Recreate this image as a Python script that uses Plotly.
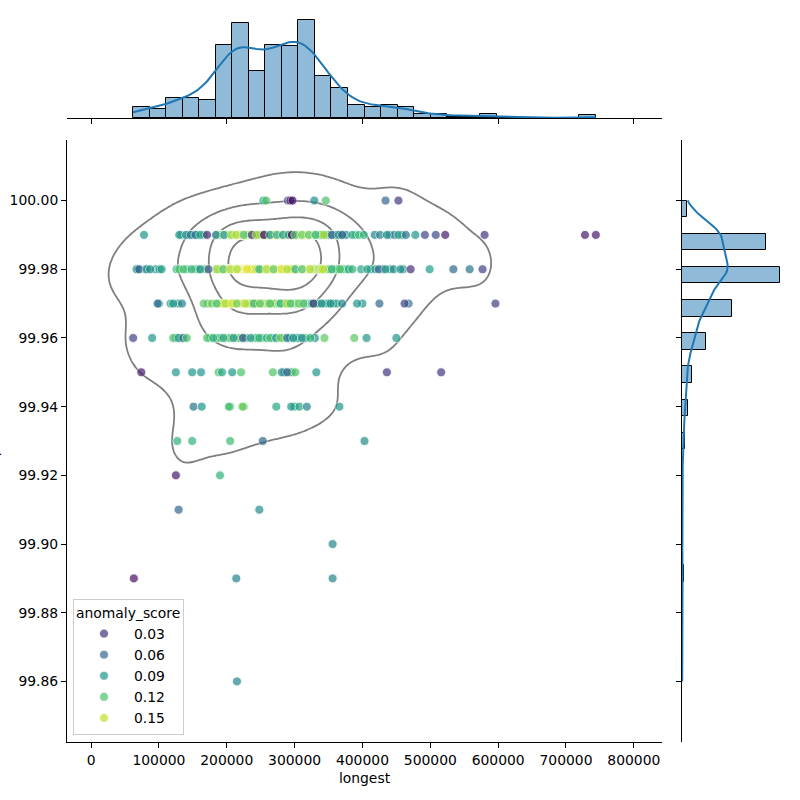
import numpy as np
import plotly.graph_objects as go
from plotly.colors import sample_colorscale

# ---------------- data (longest in thousands, per uptime row) ----------------
L_10000 = [254, 258, 290, 294, 297, 329, 346, 434, 453]
S_10000 = [.10, .12, .05, .008, .02, .085, .12, .06, .035]

L_9999 = [133, 144, 151, 157, 166,
          186, 188, 190, 192, 194, 197, 198, 200, 201, 202, 203, 204, 205, 206,
          209, 210, 211, 212, 213, 215, 216, 217, 218, 219, 220, 221, 222, 223, 226, 227, 228, 229, 230, 232,
          234, 236, 239, 241, 246, 248, 250, 253,
          258, 260, 262, 266, 268, 270, 271, 272, 276, 277, 278, 279, 280, 281,
          282, 285, 286, 287, 288, 290, 293, 295, 298, 300, 303, 305,
          306, 307, 308, 309, 310, 312, 313, 314, 315, 316, 317, 318, 319, 320, 322, 323, 324, 325, 326, 327, 328, 329, 330, 330,
          333, 335, 336, 338, 340, 345, 348, 352,
          357, 360, 362, 367, 372, 376,
          390, 418, 440, 447, 458,
          78, 130, 140, 147, 154, 161, 171, 184, 196, 207, 214, 225, 237, 244, 255, 264, 274, 283, 291, 296,
          301, 311, 321, 331, 343, 355, 365, 370, 385, 395, 402, 426, 436, 453, 464, 478, 492, 508, 522, 580,
          728, 744]
S_9999 = [.09, .08, .09, .10, .11,
          .12, .11, .13, .12, .13, .14, .14, .13, .15, .12, .12, .14, .13, .15,
          .14, .15, .13, .15, .14, .16, .15, .14, .15, .13, .16, .15, .14, .15, .13, .14, .15, .16, .14, .13,
          .14, .13, .15, .14, .15, .13, .14, .12,
          .14, .15, .13, .14, .15, .16, .14, .15, .13, .14, .15, .14, .13, .15,
          .15, .14, .15, .16, .14, .15, .13, .14, .15, .14, .15, .13,
          .13, .15, .14, .16, .13, .14, .15, .13, .16, .14, .15, .13, .14, .16, .15, .14, .13, .15, .14, .16, .13, .14, .15, .13,
          .13, .14, .12, .13, .12, .11, .12, .10,
          .10, .11, .09, .10, .09, .08,
          .10, .08, .08, .07, .08,
          .09, .09, .085, .075, .07, .10, .025, .075, .09, .14, .145, .12, .03, .14, .01, .09, .11, .09, .10, .008,
          .12, .13, .125, .115, .145, .055, .085, .06, .105, .115, .11, .075, .085, .10, .07, .09, .04, .045, .02, .035,
          .02, .02]

L_9998 = [69, 80, 95, 126, 140, 153, 158, 168,
          184, 188, 189, 190, 191, 193, 197, 199, 200, 201, 202, 203, 206, 207, 208,
          209, 210, 211, 212, 212, 213, 214, 216, 217, 218, 218, 219, 220, 221, 222, 222, 223, 224, 225, 226, 226, 227, 228, 229, 231, 232,
          233, 235, 237, 240, 242, 245, 250, 253, 256,
          258, 261, 262, 263, 264, 265, 266, 267, 268, 270, 271, 272, 273, 274, 275, 276, 277, 278, 279, 280,
          283, 284, 285, 286, 287, 290, 291, 292, 293, 294, 295, 296, 300, 303,
          306, 307, 308, 308, 309, 310, 312, 312, 313, 314, 315, 315, 316, 317, 318, 318, 319, 320, 320, 321, 322, 324, 324, 325, 326, 327, 327, 328, 329, 330,
          332, 334, 336, 338, 340, 345, 348, 350, 352,
          358, 360, 362, 364, 370, 374, 378,
          380, 398, 412, 430, 441, 460,
          67, 71, 82, 87, 101, 104, 130, 136, 148, 161, 173, 186, 195, 205, 215, 230, 248, 259, 269, 281,
          289, 301, 311, 323, 342, 355, 367, 385, 407, 419, 424, 434, 446, 456, 471, 499, 534, 558, 577]
S_9998 = [.08, .09, .09, .11, .11, .12, .11, .12,
          .13, .14, .15, .14, .16, .15, .14, .15, .16, .15, .14, .16, .15, .16, .14,
          .15, .16, .155, .16, .15, .165, .16, .15, .16, .155, .165, .16, .15, .16, .165, .155, .16, .15, .16, .165, .155, .16, .15, .16, .155, .16,
          .15, .16, .15, .14, .16, .15, .14, .15, .16,
          .15, .16, .155, .165, .15, .16, .155, .16, .165, .15, .16, .155, .16, .165, .15, .16, .155, .16, .15, .165,
          .16, .15, .165, .155, .16, .15, .16, .165, .155, .16, .15, .16, .155, .15,
          .14, .15, .16, .145, .155, .15, .16, .14, .155, .15, .16, .145, .15, .155, .16, .14, .15, .155, .16, .145, .15, .16, .14, .155, .15, .16, .145, .15, .155, .14,
          .14, .15, .13, .14, .15, .13, .14, .13, .12,
          .12, .13, .11, .12, .11, .12, .11,
          .11, .10, .09, .08, .085, .08,
          .09, .055, .085, .085, .085, .10, .12, .12, .11, .09, .05, .14, .12, .145, .145, .16, .11, .145, .125, .155,
          .145, .11, .12, .145, .15, .11, .12, .11, .10, .09, .06, .09, .085, .09, .03, .095, .06, .07, .04]

L_9997 = [100, 128, 172,
          188, 190, 193, 195, 201, 203, 205, 207,
          210, 212, 213, 218, 220, 221, 222, 224, 225, 229, 230, 231, 232,
          235, 238, 243, 245, 252, 255,
          258, 260, 262, 267, 271, 273, 277, 280,
          283, 285, 287, 291, 297, 299, 302, 304,
          307, 308, 310, 311, 315, 316, 318, 320, 322, 324, 325, 326,
          333, 336, 345, 350,
          357, 362, 370, 400, 468,
          98, 117, 121, 134, 166, 178, 185, 198, 208, 215, 227, 240, 249, 264, 279, 289, 294, 306, 313, 328,
          340, 353, 392, 425, 462, 596]
S_9997 = [.08, .09, .12,
          .13, .15, .14, .16, .15, .14, .16, .15,
          .15, .16, .14, .155, .16, .15, .165, .14, .16, .15, .155, .16, .14,
          .15, .14, .16, .15, .14, .13,
          .14, .15, .13, .14, .15, .13, .14, .12,
          .13, .14, .12, .14, .13, .12, .13, .12,
          .12, .13, .11, .12, .13, .12, .11, .12, .10, .11, .12, .10,
          .10, .11, .10, .09,
          .09, .10, .08, .09, .07,
          .065, .10, .09, .08, .125, .13, .12, .145, .155, .13, .145, .11, .125, .12, .11, .145, .12, .13, .12, .035,
          .085, .09, .09, .06, .04, .04]

L_9996 = [125, 133, 175, 185, 190, 200, 205, 215, 220, 228, 240, 244, 252, 268, 283, 293, 302, 306, 316, 330,
          62, 90, 121, 129, 136, 141, 171, 180, 195, 210, 224, 235, 248, 259, 264, 273, 279, 289, 298, 311,
          323, 344, 388, 406, 450]
S_9996 = [.10, .09, .12, .11, .12, .13, .12, .13, .12, .11, .12, .11, .12, .11, .12, .10, .11, .10, .11, .09,
          .04, .09, .12, .09, .06, .12, .12, .11, .10, .09, .05, .09, .11, .10, .12, .09, .13, .065, .09, .085,
          .11, .125, .125, .09, .09]

L_9995 = [285, 293, 296, 74, 125, 149, 162, 188, 193, 208, 221, 268, 281, 289, 301, 332, 436, 516]
S_9995 = [.07, .085, .12, .02, .09, .09, .09, .12, .10, .09, .12, .12, .085, .06, .12, .09, .035, .035]

L_9994 = [205, 225, 300, 151, 163, 203, 223, 273, 295, 307, 318, 366]
S_9994 = [.11, .12, .10, .07, .09, .12, .13, .10, .09, .10, .08, .09]

L_9993 = [127, 149, 205, 253, 403]
S_9993 = [.11, .11, .115, .06, .085]
L_9992 = [125, 190]
S_9992 = [.02, .11]
L_9991 = [129, 248]
S_9991 = [.06, .085]
L_9990 = [356]
S_9990 = [.08]
L_9989 = [63, 214, 356]
S_9989 = [.015, .08, .08]
L_9986 = [215]
S_9986 = [.08]

ROWS = [(100.00, L_10000, S_10000), (99.99, L_9999, S_9999), (99.98, L_9998, S_9998),
        (99.97, L_9997, S_9997), (99.96, L_9996, S_9996), (99.95, L_9995, S_9995),
        (99.94, L_9994, S_9994), (99.93, L_9993, S_9993), (99.92, L_9992, S_9992),
        (99.91, L_9991, S_9991), (99.90, L_9990, S_9990), (99.89, L_9989, S_9989),
        (99.86, L_9986, S_9986)]

X_TICKS = [0, 100000, 200000, 300000, 400000, 500000, 600000, 700000, 800000]
Y_TICKS = [99.86, 99.88, 99.90, 99.92, 99.94, 99.96, 99.98, 100.00]
LEGEND_VALUES = [0.03, 0.06, 0.09, 0.12, 0.15]

for yv, lx, ls in ROWS:
    if len(lx) != len(ls):
        raise ValueError(f"row {yv}: {len(lx)} vs {len(ls)}")

x = np.concatenate([np.asarray(r[1], float) * 1000 for r in ROWS])
y = np.concatenate([np.full(len(r[1]), r[0]) for r in ROWS])
s = np.concatenate([np.asarray(r[2], float) for r in ROWS])
n = len(x)
smin, smax = s.min(), s.max()

# ---------------- 2D KDE (seaborn-like, Scott bandwidth, cut=3) ----------------
data = np.vstack([x, y])
factor = n ** (-1 / 6)
kcov = np.cov(data) * factor ** 2
inv = np.linalg.inv(kcov)
bwx, bwy = np.sqrt(np.diag(kcov))
gx = np.linspace(x.min() - 3 * bwx, x.max() + 3 * bwx, 200)
gy = np.linspace(y.min() - 3 * bwy, y.max() + 3 * bwy, 200)
GX, GY = np.meshgrid(gx, gy)
P = np.vstack([GX.ravel(), GY.ravel()])
dens = np.zeros(P.shape[1])
for i in range(0, n, 40):
    d0 = P[0][:, None] - data[0][None, i:i + 40]
    d1 = P[1][:, None] - data[1][None, i:i + 40]
    q = inv[0, 0] * d0 ** 2 + 2 * inv[0, 1] * d0 * d1 + inv[1, 1] * d1 ** 2
    dens += np.exp(-0.5 * q).sum(axis=1)
dens /= (n * 2 * np.pi * np.sqrt(np.linalg.det(kcov)))
Z = dens.reshape(GX.shape)


def quantile_to_level(zz, props):
    v = np.sort(zz.ravel())[::-1]
    c = np.cumsum(v) / v.sum()
    idx = np.searchsorted(c, 1 - np.asarray(props))
    return np.take(v, idx, mode="clip")


levels = quantile_to_level(Z, np.linspace(0.05, 1, 5))[:-1]


def kde1d(v, grid):
    bw = v.std(ddof=1) * len(v) ** (-1 / 5)
    return np.exp(-0.5 * ((grid[:, None] - v[None, :]) / bw) ** 2).sum(1) / (len(v) * bw * np.sqrt(2 * np.pi))


# ---------------- histograms ----------------
xedges = np.histogram_bin_edges(x, bins=28)
yedges = np.histogram_bin_edges(y, bins="auto")
xc, _ = np.histogram(x, bins=xedges)
yc, _ = np.histogram(y, bins=yedges)
xbw = xedges[1] - xedges[0]
ybw = yedges[1] - yedges[0]
gxx = np.linspace(x.min(), x.max(), 200)
gyy = np.linspace(y.min(), y.max(), 200)
kx = kde1d(x, gxx) * n * xbw
ky = kde1d(y, gyy) * n * ybw

HIST_FILL = "rgba(31,119,180,0.5)"
LINE_BLUE = "#1f77b4"
FONT = "DejaVu Sans"
FS = 13.9

fig = go.Figure()
fig.add_trace(go.Scatter(x=x, y=y, mode="markers", showlegend=False, hoverinfo="skip",
                         marker=dict(color=s, colorscale="Viridis", cmin=smin, cmax=smax, size=9,
                                     opacity=0.7, line=dict(color="white", width=0.8))))
for lv in levels:
    fig.add_trace(go.Contour(x=gx, y=gy, z=Z, showscale=False, hoverinfo="skip", showlegend=False,
                             contours=dict(start=lv, end=lv, size=lv, coloring="none"),
                             line=dict(color="rgba(0,0,0,0.5)", width=1.8)))
for v in LEGEND_VALUES:
    col = sample_colorscale("Viridis", [(v - smin) / (smax - smin)])[0]
    fig.add_trace(go.Scatter(x=[None], y=[None], mode="markers", name=f"{v:.2f}",
                             marker=dict(color=col, size=9, opacity=0.7, line=dict(color="white", width=0.8))))

fig.add_trace(go.Bar(x=(xedges[:-1] + xedges[1:]) / 2, y=xc, width=xbw, xaxis="x2", yaxis="y2",
                     marker=dict(color=HIST_FILL, line=dict(color="black", width=1)),
                     showlegend=False, hoverinfo="skip"))
fig.add_trace(go.Scatter(x=gxx, y=kx, mode="lines", xaxis="x2", yaxis="y2", showlegend=False,
                         line=dict(color=LINE_BLUE, width=2), hoverinfo="skip"))
fig.add_trace(go.Bar(y=(yedges[:-1] + yedges[1:]) / 2, x=yc, width=ybw, orientation="h",
                     xaxis="x3", yaxis="y3",
                     marker=dict(color=HIST_FILL, line=dict(color="black", width=1)),
                     showlegend=False, hoverinfo="skip"))
fig.add_trace(go.Scatter(x=ky, y=gyy, mode="lines", xaxis="x3", yaxis="y3", showlegend=False,
                         line=dict(color=LINE_BLUE, width=2), hoverinfo="skip"))

W = 800.0
xdom = [67 / W, 662 / W]
ydom = [(800 - 742) / W, (800 - 140) / W]
axis_common = dict(showgrid=False, zeroline=False, showline=True, linecolor="black", linewidth=1,
                   ticks="outside", ticklen=5, tickwidth=1, tickcolor="black")

fig.update_layout(
    width=800, height=800, margin=dict(l=0, r=0, t=0, b=0),
    paper_bgcolor="white", plot_bgcolor="white",
    font=dict(family=FONT, size=FS, color="black"),
    bargap=0,
    xaxis=dict(domain=xdom, anchor="y", range=[gx[0], gx[-1]], tickvals=X_TICKS,
               ticktext=[str(t) for t in X_TICKS],
               title=dict(text="longest", standoff=6, font=dict(size=FS)), **axis_common),
    yaxis=dict(domain=ydom, anchor="x", range=[gy[0], gy[-1]], tickvals=Y_TICKS,
               ticktext=[f"{t:.2f}" for t in Y_TICKS], **axis_common),
    xaxis2=dict(domain=xdom, anchor="y2", matches="x", showticklabels=False, **axis_common),
    yaxis2=dict(domain=[682 / W, 1.0], anchor="x2", range=[0, xc.max() * 1.21], visible=False),
    xaxis3=dict(domain=[682 / W, 1.0], anchor="y3", range=[0, yc.max() * 1.21], visible=False),
    yaxis3=dict(domain=ydom, anchor="x3", matches="y", showticklabels=False, **axis_common),
    legend=dict(title=dict(text="anomaly_score", font=dict(size=FS)), x=73 / W, y=65 / W,
                xanchor="left", yanchor="bottom", bgcolor="rgba(255,255,255,0.8)",
                bordercolor="#cccccc", borderwidth=1, font=dict(size=FS), itemwidth=50,
                tracegroupgap=0),
    annotations=[dict(text="uptime", x=3 / W, y=(800 - 441) / W, xref="paper", yref="paper",
                      xanchor="right", textangle=-90, showarrow=False, font=dict(size=FS))],
)

fig.write_html("out.html")
